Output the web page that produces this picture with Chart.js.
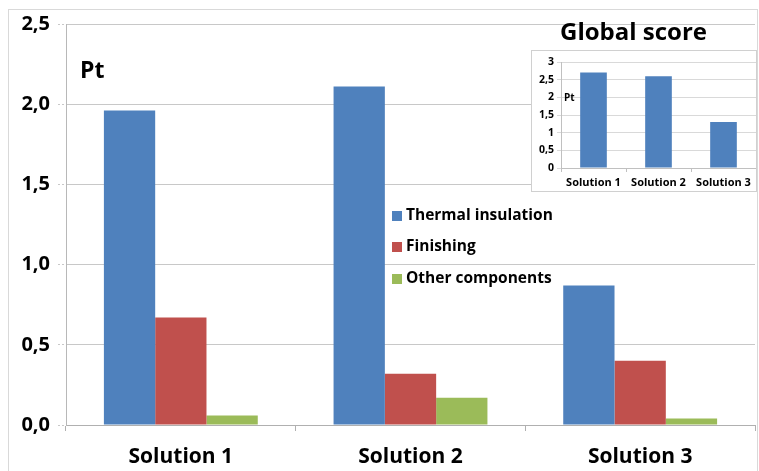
<!DOCTYPE html>
<html>
<head>
<meta charset="utf-8">
<script src="https://cdn.jsdelivr.net/npm/chart.js@4/dist/chart.umd.min.js"></script>
<style>
  body { margin: 0; background: #fff; }
  #wrap { position: relative; width: 759px; height: 471px; }
  #frame { position: absolute; left: 8px; top: 9px; width: 748px; height: 470px; border: 1px solid #d9d9d9; }
  #mainChart { position: absolute; left: 0; top: 0; }
  #inset { position: absolute; left: 531px; top: 50px; width: 226px; height: 142px; background: #fff; border: 1px solid #d0d0d0; box-sizing: border-box; }
  #insetChart { position: absolute; left: 0; top: 0; }
</style>
</head>
<body>
<div id="wrap">
  <div id="frame"></div>
  <canvas id="mainChart" width="759" height="471"></canvas>
  <div id="inset"><canvas id="insetChart" width="224" height="140"></canvas></div>
</div>
<script>
// categories and values
const categories = ["Solution 1", "Solution 2", "Solution 3"];
const thermalInsulation = [1.96, 2.11, 0.87];
const finishing = [0.67, 0.32, 0.40];
const otherComponents = [0.06, 0.17, 0.04];
const globalScore = [2.7, 2.6, 1.3];

const seriesNames = ["Thermal insulation", "Finishing", "Other components"];
const colors = ["#4f81bd", "#c0504d", "#9bbb59"];
const FONT = "'Open Sans', sans-serif";

const comma = (v, d) => (d == null ? String(v) : v.toFixed(d)).replace(".", ",");

// legend, "Pt" and inset title drawn on the main canvas
const extrasPlugin = {
  id: "extras",
  afterDraw(chart) {
    const ctx = chart.ctx;
    ctx.save();
    ctx.fillStyle = "#000";
    ctx.textBaseline = "middle";
    ctx.font = "bold 23px " + FONT;
    ctx.fillText("Pt", 80, 71);
    ctx.font = "bold 24px " + FONT;
    ctx.fillText("Global score", 560, 33);

    ctx.font = "bold 15.5px " + FONT;
    const rows = [216, 247, 279];
    chart.data.datasets.forEach((ds, i) => {
      ctx.fillStyle = ds.backgroundColor;
      ctx.fillRect(392, rows[i] - 5, 10, 10);
      ctx.fillStyle = "#000";
      ctx.fillText(ds.label, 406, rows[i]);
    });
    ctx.restore();
  }
};

new Chart(document.getElementById("mainChart").getContext("2d"), {
  type: "bar",
  data: {
    labels: categories,
    datasets: [
      { label: seriesNames[0], data: thermalInsulation, backgroundColor: colors[0] },
      { label: seriesNames[1], data: finishing, backgroundColor: colors[1] },
      { label: seriesNames[2], data: otherComponents, backgroundColor: colors[2] },
    ],
  },
  options: {
    responsive: false,
    animation: false,
    layout: { padding: { top: 24, right: 4, left: 0, bottom: 0 } },
    datasets: { bar: { categoryPercentage: 0.67, barPercentage: 1.0 } },
    plugins: { legend: { display: false }, tooltip: { enabled: false } },
    scales: {
      x: {
        afterFit: (s) => { s.height = 46; },
        grid: { offset: true, drawOnChartArea: false, drawTicks: true, tickLength: 6, color: "#b0b0b0" },
        border: { color: "#b0b0b0" },
        ticks: { color: "#000", padding: 13, font: { family: FONT, size: 21, weight: "bold" } },
      },
      y: {
        min: 0,
        max: 2.5,
        afterFit: (s) => { s.width = 66; },
        grid: { color: "#c8c8c8", tickLength: 8, tickBorderDash: [2, 2] },
        border: { color: "#b8b8b8" },
        ticks: {
          stepSize: 0.5,
          color: "#000",
          padding: 8,
          font: { family: FONT, size: 20, weight: "bold" },
          callback: (v) => comma(v, 1),
        },
      },
    },
  },
  plugins: [extrasPlugin],
});

const insetPtPlugin = {
  id: "insetPt",
  afterDraw(chart) {
    const ctx = chart.ctx;
    ctx.save();
    ctx.fillStyle = "#000";
    ctx.font = "bold 10px " + FONT;
    ctx.textBaseline = "middle";
    ctx.fillText("Pt", 32, 47);
    ctx.restore();
  }
};

new Chart(document.getElementById("insetChart").getContext("2d"), {
  type: "bar",
  data: {
    labels: categories,
    datasets: [{ label: "Global score", data: globalScore, backgroundColor: colors[0] }],
  },
  options: {
    responsive: false,
    animation: false,
    layout: { padding: { top: 11, right: 0, left: 0, bottom: 0 } },
    datasets: { bar: { categoryPercentage: 1.0, barPercentage: 0.41 } },
    plugins: { legend: { display: false }, tooltip: { enabled: false } },
    scales: {
      x: {
        afterFit: (s) => { s.height = 23; },
        grid: { offset: true, drawOnChartArea: false, tickLength: 4, color: "#c0c0c0" },
        border: { color: "#c0c0c0" },
        ticks: { color: "#000", padding: 4, font: { family: FONT, size: 11, weight: "bold" } },
      },
      y: {
        min: 0,
        max: 3,
        afterFit: (s) => { s.width = 29; },
        grid: { color: "#d9d9d9", tickLength: 4 },
        border: { color: "#c0c0c0" },
        ticks: {
          stepSize: 0.5,
          color: "#000",
          padding: 3,
          font: { family: FONT, size: 10.5, weight: "bold" },
          callback: (v) => comma(v),
        },
      },
    },
  },
  plugins: [insetPtPlugin],
});
</script>
</body>
</html>
